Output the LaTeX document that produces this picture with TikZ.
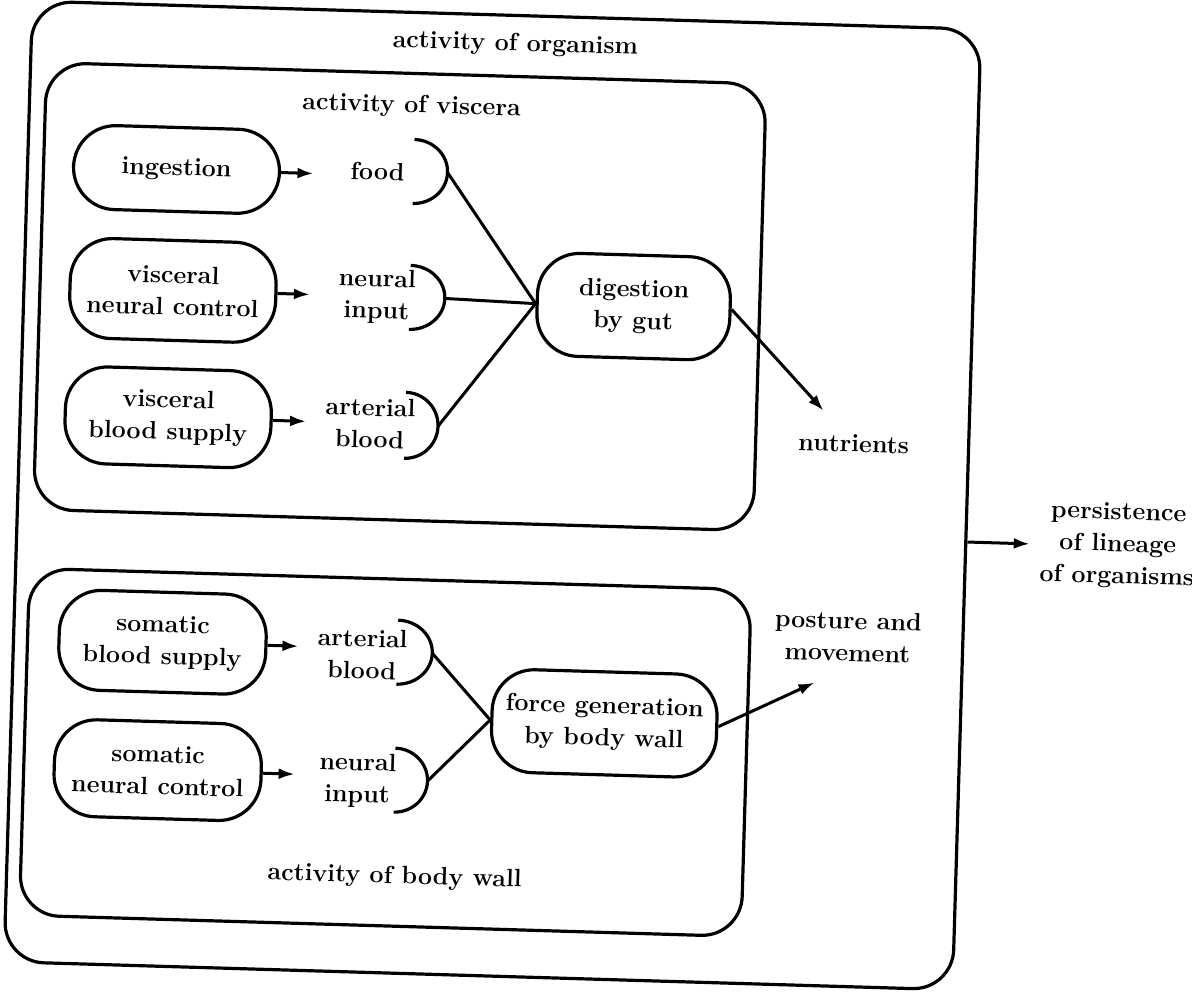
\documentclass[tikz,border=0pt]{standalone}
\usetikzlibrary{arrows.meta}
\begin{document}
\begin{tikzpicture}[x=0.5pt,y=-0.5pt,
  every node/.style={font=\fontsize{12.5}{16}\selectfont\bfseries, align=center, inner sep=0pt},
  proc/.style={draw, line width=1.6pt, rounded corners=21pt},
  zone/.style={draw, line width=1.6pt, rounded corners=20pt},
  link/.style={line width=1.5pt},
  arr/.style={line width=1.5pt, -{Latex[length=8pt,width=5.5pt]}},
  brk/.style={line width=1.6pt}]
\useasboundingbox (0,0) rectangle (1192,993);
\begin{scope}[rotate around={-1.7:(596,496)}, transform shape]
% zones
\node[zone, minimum width=474.5pt, minimum height=480.5pt] (org) at (492.5,498.5) {};
\node[zone, minimum width=360pt, minimum height=223.5pt] (visc) at (394,302.5) {};
\node[zone, minimum width=361pt, minimum height=173.5pt] (wall) at (393,758.5) {};
\node (torg) at (502,47) {activity of organism};
\node (tvisc) at (400,112) {activity of viscera};
\node (twall) at (406,883) {activity of body wall};
% viscera processes
\node[proc, minimum width=103pt, minimum height=42pt] (ing) at (167,182) {ingestion};
\node[proc, minimum width=103pt, minimum height=50pt] (vnc) at (167,303) {visceral\\neural control};
\node[proc, minimum width=103pt, minimum height=48.5pt] (vbs) at (166,430) {visceral\\blood supply};
\node[proc, minimum width=96.5pt, minimum height=51.5pt] (dig) at (628,305.5) {digestion\\by gut};
% viscera inputs
\node (food) at (368,178) {food};
\node (ni1) at (371,303) {neural\\input};
\node (ab1) at (368,430) {arterial\\blood};
\draw[brk] (404,145) arc[start angle=90, end angle=-90, x radius=17pt, y radius=16pt];
\draw[brk] (404,271) arc[start angle=90, end angle=-90, x radius=17.5pt, y radius=16pt];
\draw[brk] (403,398) arc[start angle=90, end angle=-90, x radius=16.5pt, y radius=16.5pt];
\coordinate (foodR) at (438,177);
\coordinate (ni1R) at (439,303);
\coordinate (ab1R) at (436,431);
\coordinate (t1) at (304,182);
\coordinate (t2) at (304,303);
\coordinate (t3) at (304,430);
\draw[arr] (ing.east) -- (t1);
\draw[arr] (vnc.east) -- (t2);
\draw[arr] (vbs.east) -- (t3);
\draw[link] (foodR) -- (dig.west);
\draw[link] (ni1R) -- (dig.west);
\draw[link] (ab1R) -- (dig.west);
\coordinate (nutTip) at (821,404);
\draw[arr] (dig.east) -- (nutTip);
\node (nut) at (852,436) {nutrients};
% body wall processes
\node[proc, minimum width=103.5pt, minimum height=50pt] (sbs) at (167,655) {somatic\\blood supply};
\node[proc, minimum width=103.5pt, minimum height=48.5pt] (snc) at (166,783) {somatic\\neural control};
\node[proc, minimum width=112.5pt, minimum height=51.5pt] (fgb) at (611,723) {force generation\\by body wall};
\node (ab2) at (367,661) {arterial\\blood};
\node (ni2) at (366,787) {neural\\input};
\draw[brk] (402,626) arc[start angle=90, end angle=-90, x radius=17.5pt, y radius=16pt];
\draw[brk] (403,754) arc[start angle=90, end angle=-90, x radius=16.5pt, y radius=16pt];
\coordinate (ab2R) at (437,658);
\coordinate (ni2R) at (436,786);
\coordinate (t4) at (303,655);
\coordinate (t5) at (303,783);
\draw[arr] (sbs.east) -- (t4);
\draw[arr] (snc.east) -- (t5);
\draw[link] (ab2R) -- (fgb.west);
\draw[link] (ni2R) -- (fgb.west);
\coordinate (posTip) at (820,676);
\draw[arr] (fgb.east) -- (posTip);
\node (pos) at (852,629) {posture and\\movement};
% output
\coordinate (persTip) at (1031,531);
\draw[arr] (persTip -| org.east) -- (persTip);
\node (pers) at (1119,530) {persistence\\of lineage\\of organisms};
\end{scope}
\end{tikzpicture}
\end{document}
